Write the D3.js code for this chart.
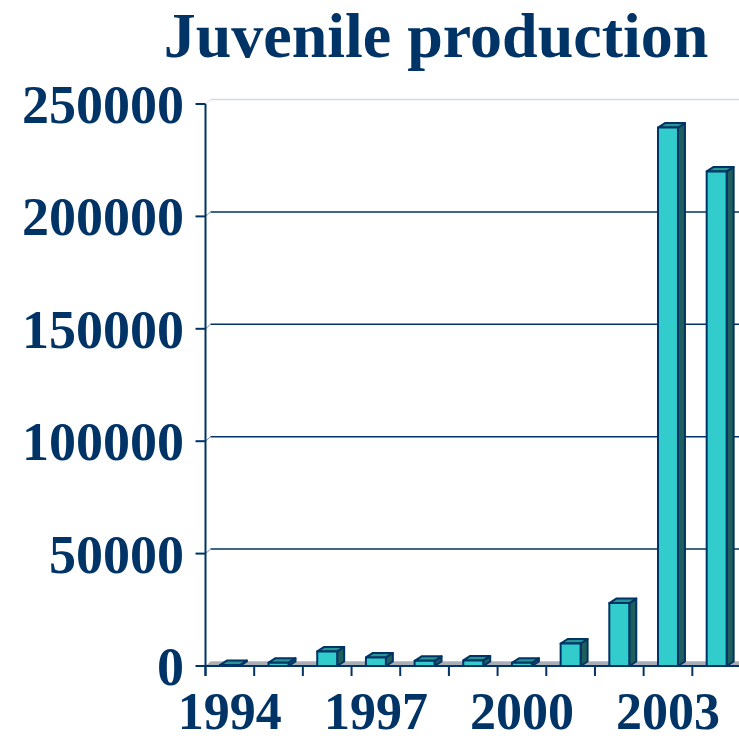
<!DOCTYPE html>
<html><head><meta charset="utf-8">
<script src="https://cdn.jsdelivr.net/npm/d3@7"></script>
<style>html,body{margin:0;padding:0;background:#fff;overflow:hidden}</style>
</head><body>
<svg id="c" width="739" height="741"></svg>
<script>
const years = ["1994","1995","1996","1997","1998","1999","2000","2001","2002","2003","2004"];
const production = [400, 1500, 6500, 3800, 2300, 2500, 1400, 10000, 28000, 239500, 220000];
const yTicks = [0, 50000, 100000, 150000, 200000, 250000];
const xLabels = ["1994","1997","2000","2003"];
const titleText = "Juvenile production";

const navy = "#003366";
const svg = d3.select("#c");
const x = d3.scaleBand().domain(years).range([205.5, 741]).padding(0);
const y = d3.scaleLinear().domain([0, 250000]).range([666, 104]);
const gdx = 5, gdy = -4.5;   // back wall depth
const bdx = 7, bdy = -4.5;   // bar depth
const bw = x.bandwidth() * 0.41;

svg.append("text").attr("x", 436).attr("y", 57).attr("text-anchor", "middle")
  .attr("font-family", "Liberation Serif, Times New Roman, serif").attr("font-weight", "bold")
  .attr("font-size", 64).attr("fill", navy).text(titleText);

// gridlines on back wall
const g = svg.append("g");
yTicks.filter(d => d > 0).forEach(v => {
  const col = v === 250000 ? "#d5dbe6" : navy;
  g.append("line").attr("x1", x.range()[0] + gdx).attr("x2", 739)
    .attr("y1", y(v) + gdy).attr("y2", y(v) + gdy).attr("stroke", col).attr("stroke-width", 1.5);
  g.append("line").attr("x1", x.range()[0]).attr("x2", x.range()[0] + gdx)
    .attr("y1", y(v)).attr("y2", y(v) + gdy).attr("stroke", v === 250000 ? "#d5dbe6" : "#8090a8").attr("stroke-width", 1);
});

// floor
const x0 = x.range()[0];
svg.append("polygon")
  .attr("points", [[x0, y(0)], [x0 + gdx, y(0) + gdy], [741, y(0) + gdy], [741, y(0)]].join(" "))
  .attr("fill", "#a9adb5");
svg.append("line").attr("x1", x0 + gdx).attr("x2", 739).attr("y1", y(0) + gdy).attr("y2", y(0) + gdy)
  .attr("stroke", "#b8c6dc").attr("stroke-width", 1.2);

// bars
const bars = svg.append("g");
years.forEach((yr, i) => {
  const v = production[i];
  const cx = x(yr) + x.bandwidth() / 2;
  const l = cx - bw / 2, r = cx + bw / 2;
  const t = y(v), b = y(0);
  const grp = bars.append("g").attr("stroke", navy).attr("stroke-width", 2).attr("stroke-linejoin", "round");
  grp.append("polygon").attr("points", [[r, b], [r + bdx, b + bdy], [r + bdx, t + bdy], [r, t]].join(" ")).attr("fill", "#1e5f5c");
  grp.append("polygon").attr("points", [[l, t], [l + bdx, t + bdy], [r + bdx, t + bdy], [r, t]].join(" ")).attr("fill", "#2a9592");
  grp.append("rect").attr("x", l).attr("y", t).attr("width", bw).attr("height", b - t).attr("fill", "#33cccc");
});

// axes
const ax = svg.append("g").attr("stroke", navy).attr("stroke-width", 2);
ax.append("line").attr("x1", x0).attr("x2", x0).attr("y1", y(250000)).attr("y2", y(0) + 10);
ax.append("line").attr("x1", x0).attr("x2", 741).attr("y1", y(0)).attr("y2", y(0));
yTicks.forEach(v => {
  ax.append("line").attr("x1", x0 - 10).attr("x2", x0).attr("y1", y(v)).attr("y2", y(v));
});
years.forEach(yr => {
  ax.append("line").attr("x1", x(yr)).attr("x2", x(yr)).attr("y1", y(0)).attr("y2", y(0) + 10);
});

svg.append("g").selectAll("text").data(yTicks).join("text")
  .attr("x", 184).attr("y", d => y(d) + 19).attr("text-anchor", "end")
  .attr("font-family", "Liberation Serif, Times New Roman, serif").attr("font-weight", "bold")
  .attr("font-size", 54).attr("fill", navy).text(d => d);

svg.append("g").selectAll("text").data(xLabels).join("text")
  .attr("x", d => x(d) + x.bandwidth() / 2).attr("y", 729).attr("text-anchor", "middle")
  .attr("font-family", "Liberation Serif, Times New Roman, serif").attr("font-weight", "bold")
  .attr("font-size", 52).attr("fill", navy).text(d => d);
</script>
</body></html>
